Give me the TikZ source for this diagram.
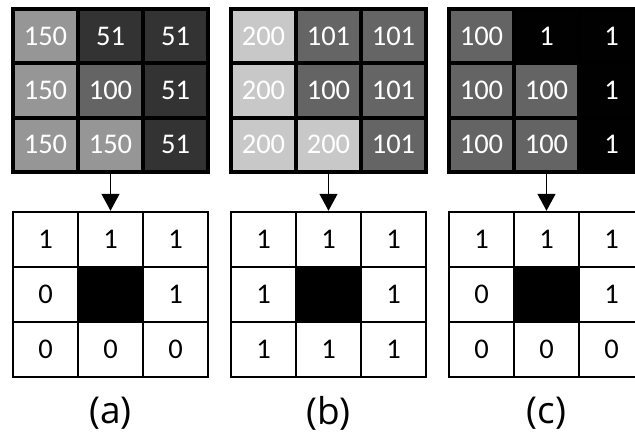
\documentclass[tikz,border=0pt]{standalone}
\usepackage{fontspec}
\setmainfont{Carlito}
\newfontfamily\digitfont{Carlito}
\newfontfamily\capfont{Open Sans}
\usepackage{tikz}
\usetikzlibrary{arrows.meta}
\definecolor{g200}{RGB}{200,200,200}
\definecolor{g150}{RGB}{150,150,150}
\definecolor{g101}{RGB}{101,101,101}
\definecolor{g100}{RGB}{100,100,100}
\definecolor{g51}{RGB}{51,51,51}
\definecolor{g1}{RGB}{1,1,1}
\tikzstyle{pixel}=[inner sep=0pt, minimum width=61pt, minimum height=50.3pt, text=white, font=\digitfont\fontsize{28.5}{28.5}\selectfont]
\tikzstyle{bincell}=[draw=black, line width=2.5pt, fill=white, inner sep=0pt, minimum width=65pt, minimum height=55pt, font=\digitfont\fontsize{28.5}{28.5}\selectfont]
\tikzstyle{hole}=[fill=black]
\tikzstyle{down}=[line width=1.5pt, -{Triangle[length=17pt,width=18pt]}]
\tikzstyle{caption}=[font=\capfont\fontsize{37}{37}\selectfont]
\newcommand{\pixBox}[4]{
	\node[pixel, fill=#1] (#2) at #3 {#4};
}
\newcommand{\binBox}[3]{
	\node[bincell] (#1) at #2 {#3};
}

\begin{document}
\begin{tikzpicture}[x=1pt,y=-1pt]
	\useasboundingbox (0,0) rectangle (635,434);
	\clip (0,0) rectangle (635,434);
	\fill[white] (0,0) rectangle (635,434);

	\fill[black] (11,7) rectangle (210,174);
	\pixBox{g150}{aT11}{(45.5,36.2)}{150}
	\pixBox{g51}{aT12}{(110.5,36.2)}{51}
	\pixBox{g51}{aT13}{(175.5,36.2)}{51}
	\pixBox{g150}{aT21}{(45.5,90.5)}{150}
	\pixBox{g100}{aT22}{(110.5,90.5)}{100}
	\pixBox{g51}{aT23}{(175.5,90.5)}{51}
	\pixBox{g150}{aT31}{(45.5,144.8)}{150}
	\pixBox{g150}{aT32}{(110.5,144.8)}{150}
	\pixBox{g51}{aT33}{(175.5,144.8)}{51}
	\binBox{aB11}{(45.5,239.5)}{1}
	\binBox{aB12}{(110.5,239.5)}{1}
	\binBox{aB13}{(175.5,239.5)}{1}
	\binBox{aB21}{(45.5,294.5)}{0}
	\node[bincell, hole] (aB22) at (110.5,294.5) {};
	\binBox{aB23}{(175.5,294.5)}{1}
	\binBox{aB31}{(45.5,349.5)}{0}
	\binBox{aB32}{(110.5,349.5)}{0}
	\binBox{aB33}{(175.5,349.5)}{0}
	\draw[down] (aT32.south) -- (aB12.north);
	\node[caption] (acap) at (110.5,413) {(a)};

	\fill[black] (229,7) rectangle (428,174);
	\pixBox{g200}{bT11}{(263.5,36.2)}{200}
	\pixBox{g101}{bT12}{(328.5,36.2)}{101}
	\pixBox{g101}{bT13}{(393.5,36.2)}{101}
	\pixBox{g200}{bT21}{(263.5,90.5)}{200}
	\pixBox{g100}{bT22}{(328.5,90.5)}{100}
	\pixBox{g101}{bT23}{(393.5,90.5)}{101}
	\pixBox{g200}{bT31}{(263.5,144.8)}{200}
	\pixBox{g200}{bT32}{(328.5,144.8)}{200}
	\pixBox{g101}{bT33}{(393.5,144.8)}{101}
	\binBox{bB11}{(263.5,239.5)}{1}
	\binBox{bB12}{(328.5,239.5)}{1}
	\binBox{bB13}{(393.5,239.5)}{1}
	\binBox{bB21}{(263.5,294.5)}{1}
	\node[bincell, hole] (bB22) at (328.5,294.5) {};
	\binBox{bB23}{(393.5,294.5)}{1}
	\binBox{bB31}{(263.5,349.5)}{1}
	\binBox{bB32}{(328.5,349.5)}{1}
	\binBox{bB33}{(393.5,349.5)}{1}
	\draw[down] (bT32.south) -- (bB12.north);
	\node[caption] (bcap) at (328.5,413) {(b)};

	\fill[black] (447,7) rectangle (646,174);
	\pixBox{g100}{cT11}{(481.5,36.2)}{100}
	\pixBox{g1}{cT12}{(546.5,36.2)}{1}
	\pixBox{g1}{cT13}{(611.5,36.2)}{1}
	\pixBox{g100}{cT21}{(481.5,90.5)}{100}
	\pixBox{g100}{cT22}{(546.5,90.5)}{100}
	\pixBox{g1}{cT23}{(611.5,90.5)}{1}
	\pixBox{g100}{cT31}{(481.5,144.8)}{100}
	\pixBox{g100}{cT32}{(546.5,144.8)}{100}
	\pixBox{g1}{cT33}{(611.5,144.8)}{1}
	\binBox{cB11}{(481.5,239.5)}{1}
	\binBox{cB12}{(546.5,239.5)}{1}
	\binBox{cB13}{(611.5,239.5)}{1}
	\binBox{cB21}{(481.5,294.5)}{0}
	\node[bincell, hole] (cB22) at (546.5,294.5) {};
	\binBox{cB23}{(611.5,294.5)}{1}
	\binBox{cB31}{(481.5,349.5)}{0}
	\binBox{cB32}{(546.5,349.5)}{0}
	\binBox{cB33}{(611.5,349.5)}{0}
	\draw[down] (cT32.south) -- (cB12.north);
	\node[caption] (ccap) at (546.5,413) {(c)};
\end{tikzpicture}
\end{document}
